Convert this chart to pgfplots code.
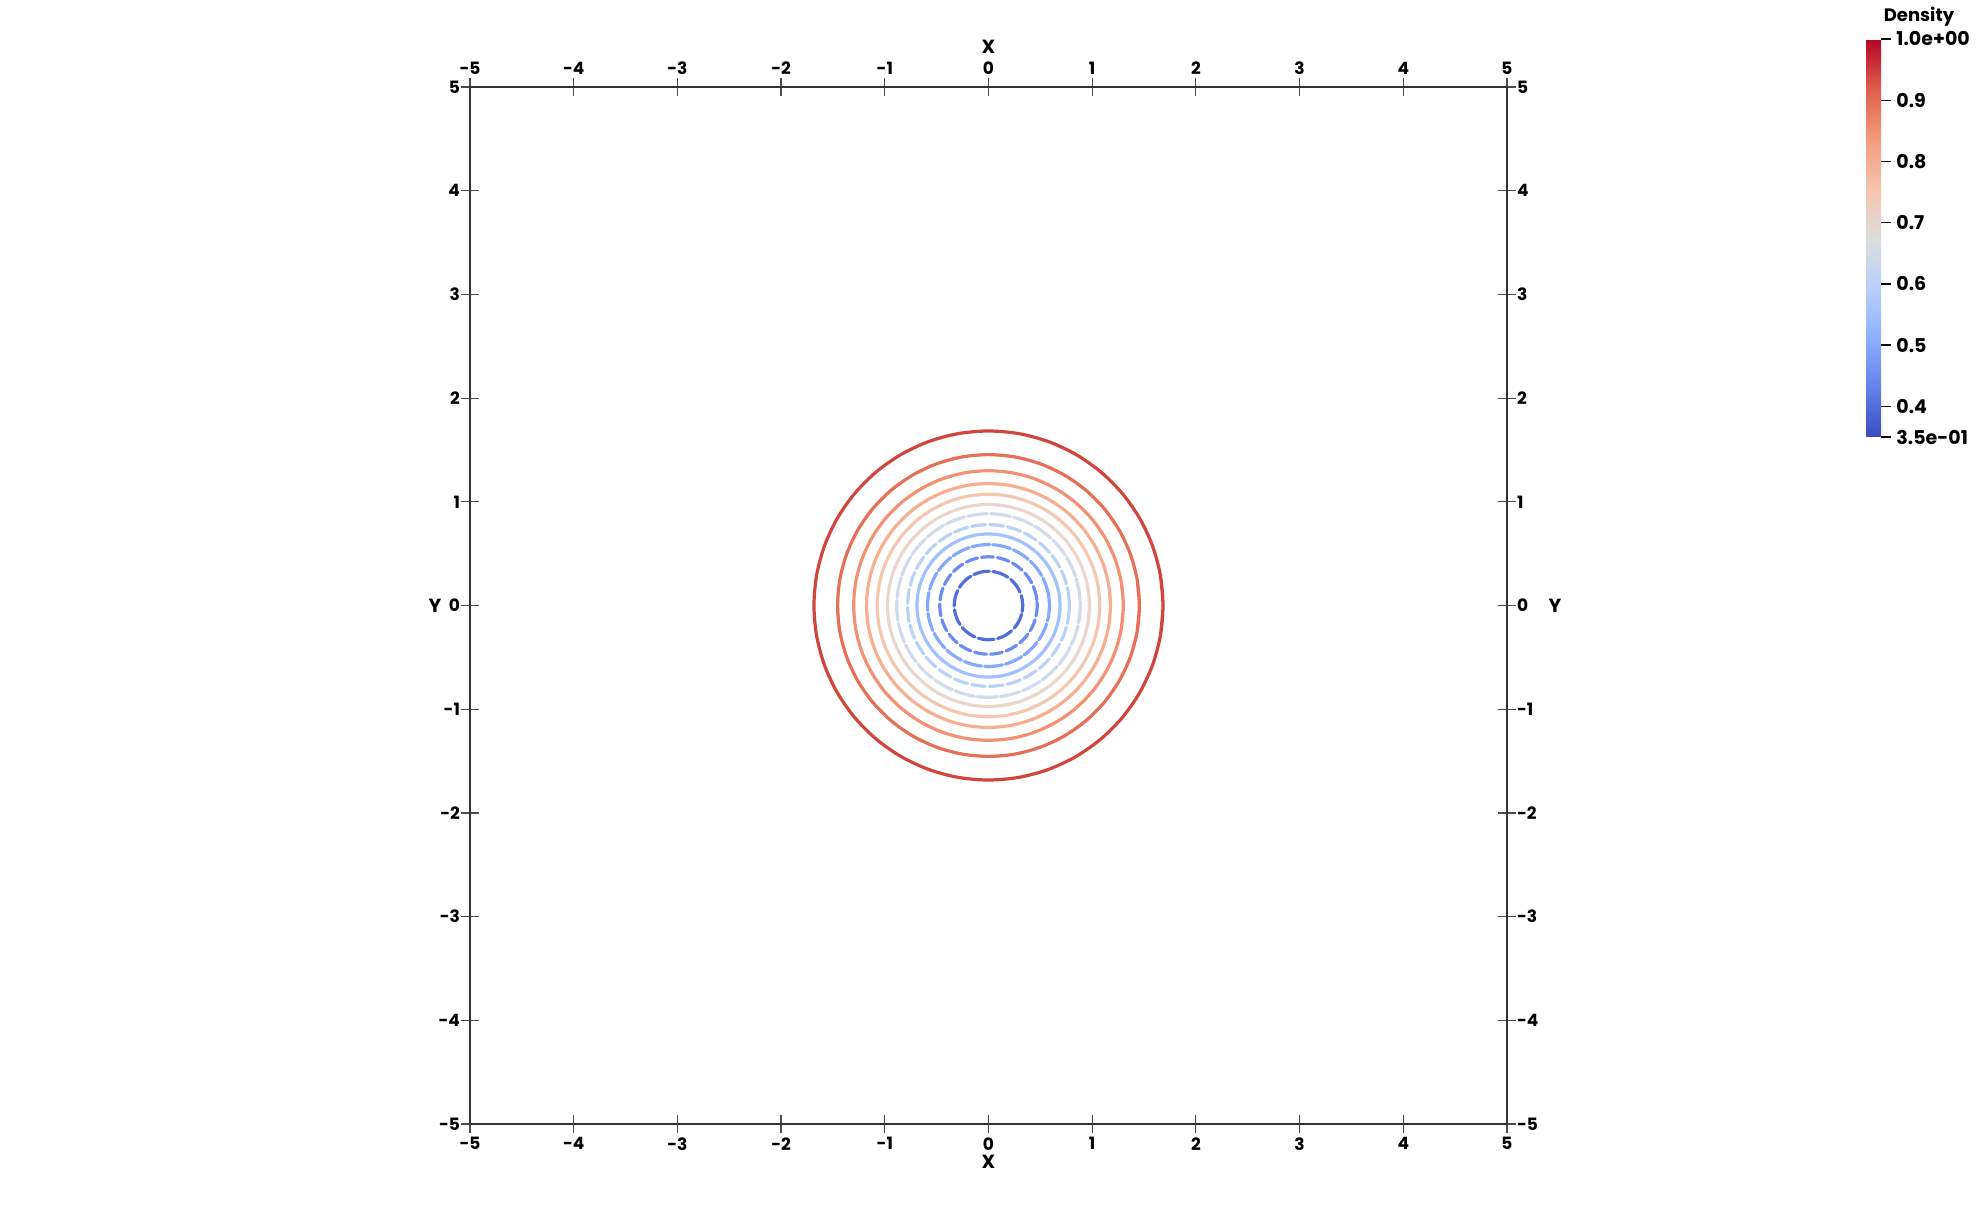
\documentclass[border=0pt]{standalone}
\usepackage{fontspec}
\setmainfont{Poppins}
\usepackage{pgfplots}
\usepackage{pgfplotstable}
\pgfplotsset{compat=1.18}
\usetikzlibrary{calc}

\definecolor{c40}{RGB}{82,110,220}
\definecolor{c45}{RGB}{107,141,240}
\definecolor{c50}{RGB}{134,169,252}
\definecolor{c55}{RGB}{161,193,255}
\definecolor{c60}{RGB}{187,210,248}
\definecolor{c65}{RGB}{211,219,232}
\definecolor{c70}{RGB}{231,215,206}
\definecolor{c75}{RGB}{244,199,177}
\definecolor{c80}{RGB}{247,175,146}
\definecolor{c85}{RGB}{242,146,116}
\definecolor{c90}{RGB}{229,111,87}
\definecolor{c95}{RGB}{208,70,61}

\pgfplotsset{
  colormap={coolwarm}{
    rgb255=(59,76,192) rgb255=(98,130,234) rgb255=(141,176,254)
    rgb255=(184,208,249) rgb255=(221,221,221) rgb255=(245,196,173)
    rgb255=(244,154,123) rgb255=(222,96,77) rgb255=(180,4,38)}
}

% contour rings: angle (deg) and radius of each density level
\pgfplotstableread{
a   r40   r45   r50   r55   r60   r65   r70   r75   r80   r85   r90   r95
-10 0.330 0.470 0.588 0.690 0.780 0.885 0.974 1.073 1.176 1.300 1.455 1.683
0   0.330 0.470 0.588 0.690 0.780 0.885 0.974 1.073 1.176 1.300 1.455 1.683
10  0.330 0.470 0.588 0.690 0.780 0.885 0.974 1.073 1.176 1.300 1.455 1.683
20  0.330 0.470 0.588 0.690 0.780 0.885 0.974 1.073 1.176 1.300 1.455 1.683
30  0.330 0.470 0.588 0.690 0.780 0.885 0.974 1.073 1.176 1.300 1.455 1.683
40  0.330 0.470 0.588 0.690 0.780 0.885 0.974 1.073 1.176 1.300 1.455 1.683
50  0.330 0.470 0.588 0.690 0.780 0.885 0.974 1.073 1.176 1.300 1.455 1.683
60  0.330 0.470 0.588 0.690 0.780 0.885 0.974 1.073 1.176 1.300 1.455 1.683
70  0.330 0.470 0.588 0.690 0.780 0.885 0.974 1.073 1.176 1.300 1.455 1.683
80  0.330 0.470 0.588 0.690 0.780 0.885 0.974 1.073 1.176 1.300 1.455 1.683
90  0.330 0.470 0.588 0.690 0.780 0.885 0.974 1.073 1.176 1.300 1.455 1.683
100 0.330 0.470 0.588 0.690 0.780 0.885 0.974 1.073 1.176 1.300 1.455 1.683
110 0.330 0.470 0.588 0.690 0.780 0.885 0.974 1.073 1.176 1.300 1.455 1.683
120 0.330 0.470 0.588 0.690 0.780 0.885 0.974 1.073 1.176 1.300 1.455 1.683
130 0.330 0.470 0.588 0.690 0.780 0.885 0.974 1.073 1.176 1.300 1.455 1.683
140 0.330 0.470 0.588 0.690 0.780 0.885 0.974 1.073 1.176 1.300 1.455 1.683
150 0.330 0.470 0.588 0.690 0.780 0.885 0.974 1.073 1.176 1.300 1.455 1.683
160 0.330 0.470 0.588 0.690 0.780 0.885 0.974 1.073 1.176 1.300 1.455 1.683
170 0.330 0.470 0.588 0.690 0.780 0.885 0.974 1.073 1.176 1.300 1.455 1.683
180 0.330 0.470 0.588 0.690 0.780 0.885 0.974 1.073 1.176 1.300 1.455 1.683
190 0.330 0.470 0.588 0.690 0.780 0.885 0.974 1.073 1.176 1.300 1.455 1.683
200 0.330 0.470 0.588 0.690 0.780 0.885 0.974 1.073 1.176 1.300 1.455 1.683
210 0.330 0.470 0.588 0.690 0.780 0.885 0.974 1.073 1.176 1.300 1.455 1.683
220 0.330 0.470 0.588 0.690 0.780 0.885 0.974 1.073 1.176 1.300 1.455 1.683
230 0.330 0.470 0.588 0.690 0.780 0.885 0.974 1.073 1.176 1.300 1.455 1.683
240 0.330 0.470 0.588 0.690 0.780 0.885 0.974 1.073 1.176 1.300 1.455 1.683
250 0.330 0.470 0.588 0.690 0.780 0.885 0.974 1.073 1.176 1.300 1.455 1.683
260 0.330 0.470 0.588 0.690 0.780 0.885 0.974 1.073 1.176 1.300 1.455 1.683
270 0.330 0.470 0.588 0.690 0.780 0.885 0.974 1.073 1.176 1.300 1.455 1.683
280 0.330 0.470 0.588 0.690 0.780 0.885 0.974 1.073 1.176 1.300 1.455 1.683
290 0.330 0.470 0.588 0.690 0.780 0.885 0.974 1.073 1.176 1.300 1.455 1.683
300 0.330 0.470 0.588 0.690 0.780 0.885 0.974 1.073 1.176 1.300 1.455 1.683
310 0.330 0.470 0.588 0.690 0.780 0.885 0.974 1.073 1.176 1.300 1.455 1.683
320 0.330 0.470 0.588 0.690 0.780 0.885 0.974 1.073 1.176 1.300 1.455 1.683
330 0.330 0.470 0.588 0.690 0.780 0.885 0.974 1.073 1.176 1.300 1.455 1.683
340 0.330 0.470 0.588 0.690 0.780 0.885 0.974 1.073 1.176 1.300 1.455 1.683
350 0.330 0.470 0.588 0.690 0.780 0.885 0.974 1.073 1.176 1.300 1.455 1.683
360 0.330 0.470 0.588 0.690 0.780 0.885 0.974 1.073 1.176 1.300 1.455 1.683
370 0.330 0.470 0.588 0.690 0.780 0.885 0.974 1.073 1.176 1.300 1.455 1.683
}\rings

\pgfplotsset{
  cubeaxis/.style={
    at={(0,0)}, anchor=south west,
    scale only axis, width=518.5pt, height=518.5pt,
    xmin=-5, xmax=5, ymin=-5, ymax=5,
    xtick={-5,...,5}, ytick={-5,...,5},
    tick align=center, major tick length=9pt,
    tick style={black!70, line width=0.6pt},
    axis line style={black!80, line width=0.7pt},
    /pgf/number format/assume math mode=true,
    ticklabel style={font=\fontsize{8.5}{10}\selectfont\bfseries},
  },
  ring/.style={line width=1.6pt, line join=round, line cap=round, data cs=polar, smooth},
}

\begin{document}
\begin{tikzpicture}
\begin{axis}[
  cubeaxis,
  xticklabel pos=lower, yticklabel pos=left,
  xticklabel style={yshift=1.3pt},
  yticklabel style={xshift=3pt},
  xlabel={X}, ylabel={Y},
  every axis x label/.style={at={(axis description cs:0.5,-0.0366)}, anchor=center, font=\fontsize{9.5}{10}\selectfont\bfseries},
  every axis y label/.style={at={(axis description cs:-0.0338,0.5)}, anchor=center, font=\fontsize{9.5}{10}\selectfont\bfseries},
  colormap name=coolwarm,
  point meta min=0.35, point meta max=1,
  colorbar,
  colorbar style={
    at={($(parent axis.south west)+(689.5pt,343.5pt)$)}, anchor=south west,
    width=7.5pt, height=199pt,
    ytick={0.35,0.4,0.5,0.6,0.7,0.8,0.9,1.0},
    yticklabels={3.5e-01,0.4,0.5,0.6,0.7,0.8,0.9,1.0e+00},
    ytick pos=right, yticklabel pos=right,
    tick align=outside, major tick length=5pt,
    ytick style={black, line width=0.7pt},
    axis line style={draw=none},
    yticklabel style={font=\fontsize{9.5}{11}\selectfont\bfseries, inner sep=1.5pt, xshift=1pt},
    title={Density},
    title style={at={(3.53,1)}, anchor=base, yshift=2.5pt, font=\fontsize{9}{10}\selectfont\bfseries},
  },
]
\addplot[ring, c95] table[x=a, y=r95] {\rings};
\addplot[ring, c90] table[x=a, y=r90] {\rings};
\addplot[ring, c85] table[x=a, y=r85] {\rings};
\addplot[ring, c80] table[x=a, y=r80] {\rings};
\addplot[ring, c75] table[x=a, y=r75] {\rings};
\addplot[ring, c70] table[x=a, y=r70] {\rings};
\addplot[ring, c65, dash pattern=on 10pt off 1.5pt] table[x=a, y=r65] {\rings};
\addplot[ring, c60, dash pattern=on 7pt off 2pt] table[x=a, y=r60] {\rings};
\addplot[ring, c55] table[x=a, y=r55] {\rings};
\addplot[ring, c50, dash pattern=on 9pt off 1.5pt] table[x=a, y=r50] {\rings};
\addplot[ring, c45, dash pattern=on 6pt off 2pt] table[x=a, y=r45] {\rings};
\addplot[ring, c40, dash pattern=on 8pt off 1.8pt] table[x=a, y=r40] {\rings};
\end{axis}
\begin{axis}[
  cubeaxis,
  xticklabel pos=upper, yticklabel pos=right,
  xticklabel style={yshift=-2pt},
  yticklabel style={xshift=-3pt},
  xlabel={X}, ylabel={Y},
  every axis x label/.style={at={(axis description cs:0.5,1.0386)}, anchor=center, font=\fontsize{9.5}{10}\selectfont\bfseries},
  every axis y label/.style={at={(axis description cs:1.0463,0.5)}, anchor=center, font=\fontsize{9.5}{10}\selectfont\bfseries},
]
\end{axis}
\pgfresetboundingbox
\path[use as bounding box] (-235pt,-44pt) rectangle (754pt,562pt);
\end{tikzpicture}
\end{document}
